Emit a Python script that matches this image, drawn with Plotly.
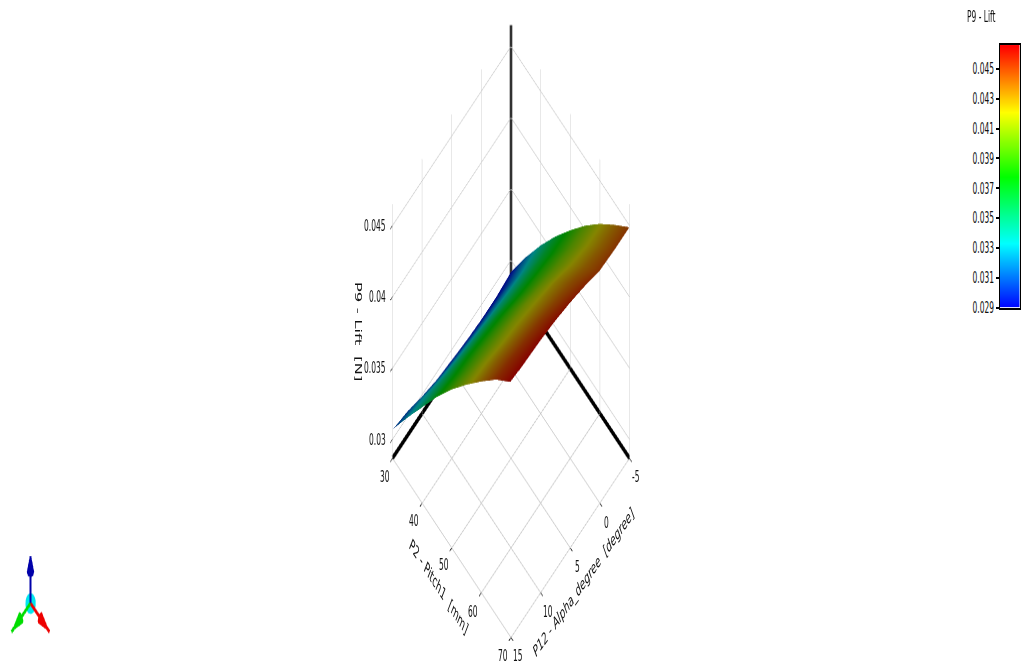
import plotly.graph_objects as go

pitch = [30, 35, 40, 45, 50, 55, 60, 65, 70]
alpha = [-5, -2.5, 0, 2.5, 5, 7.5, 10, 12.5, 15]
lift = [
    [.0292, .0318, .0342, .0364, .0384, .0403, .0420, .0435, .0449],
    [.0290, .0316, .0341, .0364, .0384, .0403, .0420, .0435, .0449],
    [.0290, .0317, .0342, .0365, .0386, .0405, .0422, .0437, .0450],
    [.0291, .0318, .0344, .0367, .0388, .0408, .0426, .0441, .0455],
    [.0293, .0320, .0346, .0370, .0391, .0411, .0428, .0444, .0459],
    [.0295, .0322, .0348, .0372, .0393, .0413, .0430, .0447, .0462],
    [.0299, .0325, .0350, .0374, .0395, .0414, .0432, .0449, .0464],
    [.0304, .0329, .0352, .0375, .0396, .0416, .0434, .0451, .0465],
    [.0307, .0331, .0354, .0377, .0398, .0417, .0435, .0452, .0466],
]
pitch_range = [30, 70]
alpha_range = [15, -5]
lift_range = [.0287, .0465]
pitch_ticks = [30, 40, 50, 60, 70]
alpha_ticks = [-5, 0, 5, 10, 15]
lift_ticks = [.03, .035, .04, .045]
lift_labels = ['0.03', '0.035', '0.04', '0.045']
bar_levels = [.0285, .029, .0334, .0378, .0422, .0466, .0470]
bar_colors = [.029, .029, .0334, .0378, .0422, .0466, .0466]
bar_range = [.029, .0466]
bar_ticks = [.029, .031, .033, .035, .037, .039, .041, .043, .045]
rainbow = [[0, '#0000ff'], [.25, '#00ffff'], [.5, '#00ff00'], [.75, '#ffff00'], [1, '#ff0000']]
font = dict(family='DejaVu Sans', size=7.5, color='#111111')
title_font = dict(family='DejaVu Sans', size=8.3, color='#111111')
camera = dict(projection=dict(type='orthographic'), eye=dict(x=.4677, y=-.4677, z=.75), up=dict(x=0, y=0, z=1))

fig = go.Figure()
fig.add_trace(go.Surface(x=pitch, y=alpha, z=lift, colorscale=rainbow, cmin=bar_range[0], cmax=bar_range[1],
                         showscale=False, lighting=dict(ambient=.52, diffuse=0, specular=0, fresnel=0)))
# thick black axes through the back corner
for xs, ys, zs in [(pitch_range, [alpha_range[1]] * 2, [lift_range[0]] * 2),
                   ([pitch_range[0]] * 2, alpha_range, [lift_range[0]] * 2),
                   ([pitch_range[0]] * 2, [alpha_range[1]] * 2, lift_range)]:
    fig.add_trace(go.Scatter3d(x=xs, y=ys, z=zs, mode='lines', line=dict(color='black', width=5), showlegend=False))


# the axis box is a hair wider than the data, lines sitting right on it get clipped into dashes
def axis(ticks, rng, pad):
    return dict(title=dict(text=''), tickvals=ticks, range=[rng[0] - pad, rng[1] + pad], showticklabels=False, gridcolor='#c4c4c4',
                gridwidth=1, showbackground=False, showline=False, zeroline=False, showspikes=False, ticks='outside',
                ticklen=3, tickcolor='black')


# tick labels and titles as scene annotations, they stay flat like the reference's
labels = []
for v in pitch_ticks:
    labels.append(dict(x=v, y=alpha_range[0], z=lift_range[0], text=str(v), xshift=-8, yshift=-9, font=font))
for v in alpha_ticks:
    labels.append(dict(x=pitch_range[1], y=v, z=lift_range[0], text=str(v), xshift=7, yshift=-9.5, font=font))
for v, t in zip(lift_ticks, lift_labels):
    labels.append(dict(x=pitch_range[0], y=alpha_range[0], z=v, text=t, xanchor='right', xshift=-5, font=font))
labels.append(dict(x=50, y=alpha_range[0], z=lift_range[0], text='P2 - Pitch1  [mm]', textangle=37.5, xshift=-13, yshift=-19, font=title_font))
labels.append(dict(x=pitch_range[1], y=5, z=lift_range[0], text='P12 - Alpha_degree  [degree]', textangle=-35.5, xshift=13, yshift=-17.5, font=title_font))
labels.append(dict(x=pitch_range[0], y=alpha_range[0], z=.0376, text='P9 - Lift  [N]', textangle=90, xshift=-34, font=title_font))
for a in labels:
    a.update(showarrow=False)

# colour bar, drawn on its own axes so that its labels sit on the left
fig.add_trace(go.Heatmap(x=[0, 1], y=bar_levels, z=[[v, v] for v in bar_colors], colorscale=rainbow, showscale=False,
                         zsmooth='best', zmin=bar_range[0], zmax=bar_range[1]))

# orientation triad
triad = [([0, 1], [0, 0], [0, 0], '#ee0000', 1, 0, 0), ([0, 0], [0, 1], [0, 0], '#00dd00', 0, 1, 0),
         ([0, 0], [0, 0], [0, 1.3], '#0000aa', 0, 0, 1)]
for xs, ys, zs, col, u, v, w in triad:
    fig.add_trace(go.Scatter3d(x=xs, y=ys, z=zs, mode='lines', line=dict(color=col, width=4), scene='scene2', showlegend=False))
    fig.add_trace(go.Cone(x=[xs[1]], y=[ys[1]], z=[zs[1]], u=[u], v=[v], w=[w], anchor='tip', sizemode='absolute', sizeref=.5,
                          colorscale=[[0, col], [1, col]], showscale=False, scene='scene2',
                          lighting=dict(ambient=1, diffuse=0, specular=0)))
fig.add_trace(go.Scatter3d(x=[0], y=[0], z=[0], mode='markers', marker=dict(color='#00e5ee', size=6), scene='scene2', showlegend=False))

hidden_x = dict(visible=False, range=[-.2, 1.2])
hidden_y = dict(visible=False, range=[1.2, -.2])
hidden_z = dict(visible=False, range=[-.2, 1.4])
fig.update_layout(
    width=1022, height=332, autosize=False, margin=dict(l=0, r=0, t=0, b=0), paper_bgcolor='white', plot_bgcolor='white',
    font=font, showlegend=False,
    scene=dict(domain=dict(x=[0, 1], y=[0, 1]), aspectmode='manual', aspectratio=dict(x=1.026, y=1.026, z=1.1655), camera=camera,
               xaxis=axis(pitch_ticks, pitch_range, .03), yaxis=axis(alpha_ticks, alpha_range, -.015),
               zaxis=axis(lift_ticks, lift_range, .00002), annotations=labels),
    scene2=dict(domain=dict(x=[0, .06], y=[0, .16]), aspectmode='manual', aspectratio=dict(x=1.45, y=1.45, z=1.8), camera=camera,
                xaxis=hidden_x, yaxis=hidden_y, zaxis=hidden_z),
    xaxis=dict(domain=[.978, .998], range=[0, 1], showticklabels=False, ticks='', showgrid=False, zeroline=False,
               showline=True, mirror=True, linecolor='black', linewidth=1),
    yaxis=dict(domain=[.536, .934], range=bar_range, tickvals=bar_ticks, tickformat='.3f', ticks='outside',
               ticklen=3, tickcolor='black', tickfont=font, showgrid=False, zeroline=False, showline=True, mirror=True,
               linecolor='black', linewidth=1),
    annotations=[dict(text='P9 - Lift', x=981 / 1022, y=.977, xref='paper', yref='paper', xanchor='center', yanchor='middle',
                      showarrow=False, font=font)],
)

# the reference is squashed to half height and then stretched, text included
stretch = """
document.body.style.margin = '0';
document.documentElement.style.overflow = 'hidden';
var chart = document.getElementById('chart');
chart.style.transformOrigin = '0 0';
chart.style.transform = 'translateY(1.5px) scaleY(2.017)';
"""
fig.write_html("out.html", div_id='chart', post_script=stretch, config=dict(displayModeBar=False))
